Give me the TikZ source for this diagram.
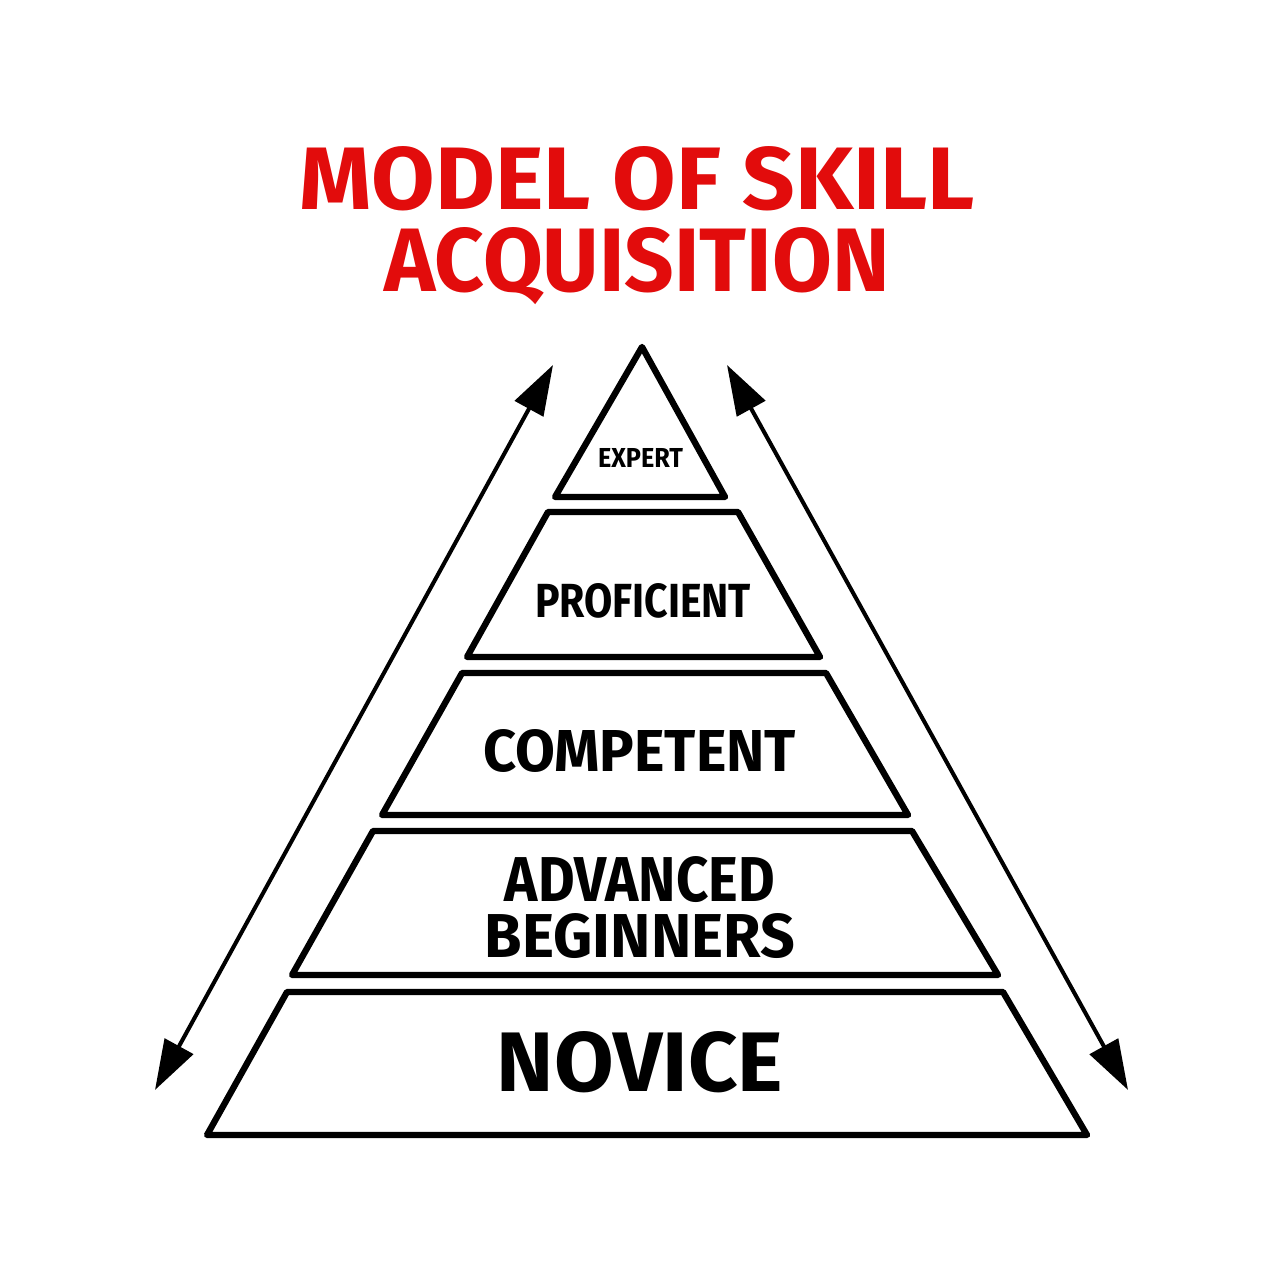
\documentclass[tikz,border=0pt]{standalone}
\usepackage{fontspec}
\setmainfont{Fira Sans}
\usetikzlibrary{arrows.meta}
\definecolor{titlered}{RGB}{226,12,12}
\newcommand{\fitlbl}[3]{\resizebox{#1cm}{#2cm}{\bfseries #3}}
\tikzset{
  layer/.style={draw=black, line width=1.8pt, line join=round, fill=white},
  lbl/.style={inner sep=0pt, anchor=base, text=black},
  ttl/.style={inner sep=0pt, anchor=base, text=titlered},
  dbl/.style={line width=1.15pt, {Triangle[length=5mm,width=3.2mm]}-{Triangle[length=5mm,width=3.2mm]}}
}
\begin{document}
\begin{tikzpicture}
\fill[white] (0,0) rectangle (12.8,12.8);
\useasboundingbox (0,0) rectangle (12.8,12.8);
% title
\node[ttl] (t1) at (6.375,10.70) {\fitlbl{6.75}{0.63}{MODEL OF SKILL}};
\node[ttl] (t2) at (6.37,9.88) {\fitlbl{5.05}{0.64}{ACQUISITION}};
% layers
\draw[layer] (6.42,9.33) -- (7.25,7.83) -- (5.55,7.83) -- cycle;
\draw[layer] (5.48,7.68) -- (7.38,7.68) -- (8.20,6.23) -- (4.67,6.23) -- cycle;
\draw[layer] (4.62,6.07) -- (8.26,6.07) -- (9.08,4.65) -- (3.82,4.65) -- cycle;
\draw[layer] (3.73,4.49) -- (9.12,4.49) -- (9.98,3.05) -- (2.92,3.05) -- cycle;
\draw[layer] (2.87,2.88) -- (10.03,2.88) -- (10.87,1.45) -- (2.07,1.45) -- cycle;
% labels
\node[lbl] (expert) at (6.405,8.12) {\fitlbl{0.85}{0.19}{EXPERT}};
\node[lbl] (prof) at (6.43,6.62) {\fitlbl{2.16}{0.34}{PROFICIENT}};
\node[lbl] (comp) at (6.395,5.08) {\fitlbl{3.13}{0.42}{COMPETENT}};
\node[inner sep=0pt, anchor=north, text=black] (advbeg) at (6.40,4.24)
  {\vbox{\offinterlineskip
    \hbox to 3.10cm{\hss\fitlbl{2.70}{0.45}{ADVANCED}\hss}
    \kern0.11cm
    \hbox{\fitlbl{3.10}{0.44}{BEGINNERS}}}};
\node[lbl] (nov) at (6.40,1.88) {\fitlbl{2.86}{0.60}{NOVICE}};
% arrows
\coordinate (la) at (5.53,9.15);
\coordinate (lb) at (1.55,1.90);
\coordinate (ra) at (7.27,9.15);
\coordinate (rb) at (11.28,1.90);
\draw[dbl] (la) -- (lb);
\draw[dbl] (ra) -- (rb);
\end{tikzpicture}
\end{document}
